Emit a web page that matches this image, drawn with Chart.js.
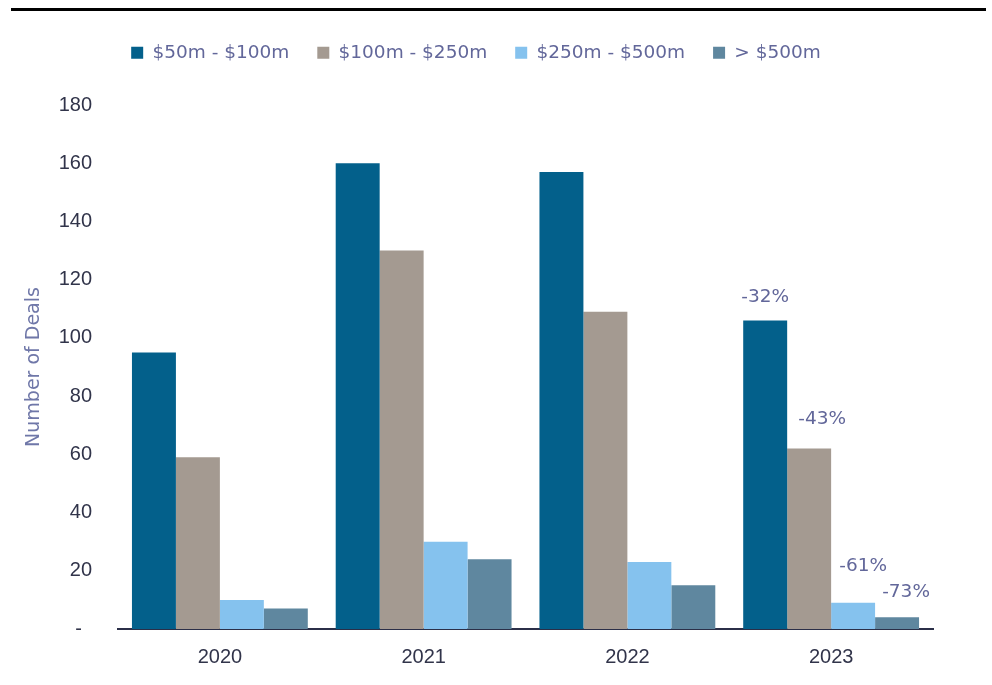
<!DOCTYPE html>
<html>
<head>
<meta charset="utf-8">
<script src="https://cdn.jsdelivr.net/npm/chart.js@4/dist/chart.umd.min.js"></script>
<style>
  html, body { margin: 0; padding: 0; background: #ffffff; }
  #wrap { position: relative; width: 992px; height: 685px; }
  #rule { position: absolute; left: 11px; top: 8px; width: 975px; height: 3px; background: #000; }
  #chart { position: absolute; left: 0; top: 0; }
</style>
</head>
<body>
<div id="wrap">
  <div id="rule"></div>
  <canvas id="chart" width="992" height="685"></canvas>
</div>
<script>
// Deal counts by deal size bracket, per year
const years = ['2020', '2021', '2022', '2023'];
const seriesNames = ['$50m - $100m', '$100m - $250m', '$250m - $500m', '> $500m'];
const deals50to100 = [95, 160, 157, 106];
const deals100to250 = [59, 130, 109, 62];
const deals250to500 = [10, 30, 23, 9];
const dealsOver500 = [7, 24, 15, 4];
const yTicks = [0, 20, 40, 60, 80, 100, 120, 140, 160, 180];

const seriesValues = [deals50to100, deals100to250, deals250to500, dealsOver500];
const seriesColors = ['#03608b', '#a49a91', '#85c2ee', '#5f879f'];

const textFont = 'DejaVu Sans';
const accent = '#62679a';

// Year-over-year change labels above the latest year's bars
const changeLabels = {
  id: 'changeLabels',
  afterDatasetsDraw(chart, args, opts) {
    const ctx = chart.ctx;
    const last = years.length - 1;
    ctx.save();
    ctx.font = '18.5px "' + textFont + '"';
    ctx.fillStyle = accent;
    ctx.textAlign = 'center';
    ctx.textBaseline = 'middle';
    chart.data.datasets.forEach((ds, i) => {
      const bar = chart.getDatasetMeta(i).data[last];
      const cur = ds.data[last];
      const prev = ds.data[last - 1];
      const pct = Math.round((cur / prev - 1) * 100);
      const nudge = opts.nudges[i];
      ctx.fillText(pct + '%', bar.x + nudge.dx, bar.y - nudge.dy);
    });
    ctx.restore();
  }
};

// Extra room between the legend and the plot
const legendGap = {
  id: 'legendGap',
  beforeInit(chart, args, opts) {
    const legend = chart.legend;
    if (!legend || legend._gapPatched) return;
    const fit = legend.fit;
    legend.fit = function () {
      fit.call(this);
      this.height += opts.extra;
    };
    legend._gapPatched = true;
  }
};

new Chart(document.getElementById('chart'), {
  type: 'bar',
  data: {
    labels: years,
    datasets: seriesNames.map((name, i) => ({
      label: name,
      data: seriesValues[i],
      backgroundColor: seriesColors[i],
      borderWidth: 0,
      categoryPercentage: 0.863,
      barPercentage: 1.0
    }))
  },
  options: {
    responsive: false,
    animation: false,
    layout: { padding: { left: 19, right: 59, top: 15.5, bottom: 0 } },
    plugins: {
      legend: {
        position: 'top',
        align: 'center',
        labels: {
          boxWidth: 12,
          boxHeight: 12,
          padding: 28,
          color: accent,
          font: { family: textFont, size: 18.5 }
        }
      },
      tooltip: { enabled: false },
      legendGap: { extra: 33 },
      changeLabels: {
        nudges: [
          { dx: 0, dy: 23 },
          { dx: 13, dy: 29 },
          { dx: 10, dy: 37 },
          { dx: 9, dy: 25 }
        ]
      }
    },
    scales: {
      x: {
        offset: true,
        afterFit(scale) { scale.height = 56; },
        grid: { display: false, drawTicks: false },
        border: { display: true, color: '#2b2f48', width: 2 },
        ticks: {
          color: '#31344a',
          padding: 16,
          font: { family: 'Liberation Sans', size: 20 }
        }
      },
      y: {
        min: 0,
        max: 180,
        afterFit(scale) { scale.width = 99; },
        afterBuildTicks(scale) { scale.ticks = yTicks.map(v => ({ value: v })); },
        grid: { display: false, drawTicks: false },
        border: { display: false },
        title: {
          display: true,
          text: 'Number of Deals',
          color: '#6f77a8',
          padding: { top: 4, bottom: 4 },
          font: { family: textFont, size: 19 }
        },
        ticks: {
          color: '#31344a',
          padding: 26,
          font: { family: 'Liberation Sans', size: 20 },
          callback: v => (v === 0 ? '-\u2002' : String(v))
        }
      }
    }
  },
  plugins: [changeLabels, legendGap]
});
</script>
</body>
</html>
